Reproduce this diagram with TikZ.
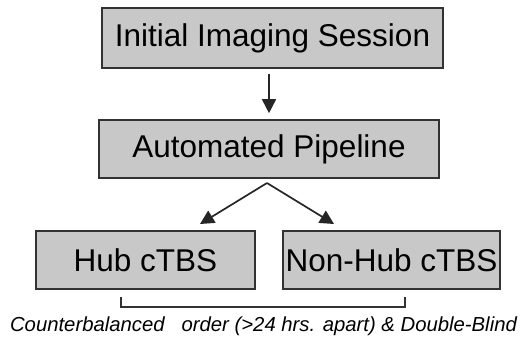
\documentclass[tikz,border=0pt]{standalone}
\usepackage{fontspec}
\setmainfont{Liberation Sans}
\usetikzlibrary{arrows.meta}
\definecolor{boxgray}{RGB}{200,200,200}
\definecolor{edgegray}{RGB}{50,50,50}
\begin{document}
\begin{tikzpicture}[x=1pt, y=-1pt,
        box/.style={draw=edgegray, fill=boxgray, line width=1.6pt, inner sep=0pt,
            minimum height=58pt, font=\fontsize{31.5}{36}\selectfont},
        link/.style={draw=black!85, line width=1.7pt,
            -{Triangle[length=14pt,width=14pt]}}]
        \useasboundingbox (0,0) rectangle (526,341);

        % Etapas
        \node[box, minimum width=341pt, minimum height=60pt] (scan) at (272.5,38)
            {Initial Imaging Session};
        \node[box, minimum width=340pt] (pipe) at (269,149) {Automated Pipeline};
        \node[box, minimum width=219pt] (hub) at (145.5,260) {Hub cTBS};
        \node[box, minimum width=217pt] (nonhub) at (391.5,260) {Non-Hub cTBS};

        % Flechas
        \draw[link, shorten <=5pt, shorten >=6pt] (scan.south -| pipe.north) -- (pipe.north);

        \coordinate (fork) at (267,183);
        \coordinate (hubin) at (200,224);
        \coordinate (nonin) at (334,224);
        \draw[link] (fork) -- (hubin);
        \draw[link] (fork) -- (nonin);

        % Llave inferior
        \coordinate (brl) at (121,297);
        \coordinate (brr) at (405,297);
        \draw[edgegray, line width=1.6pt] (brl) -- ++(0,10) -| (brr);

        \node[font=\fontsize{20.3}{24}\selectfont\itshape] (note) at (263.5,326)
            {Counterbalanced\ \ \ order (>24 hrs. apart) \& Double-Blind};
    \end{tikzpicture}
\end{document}
